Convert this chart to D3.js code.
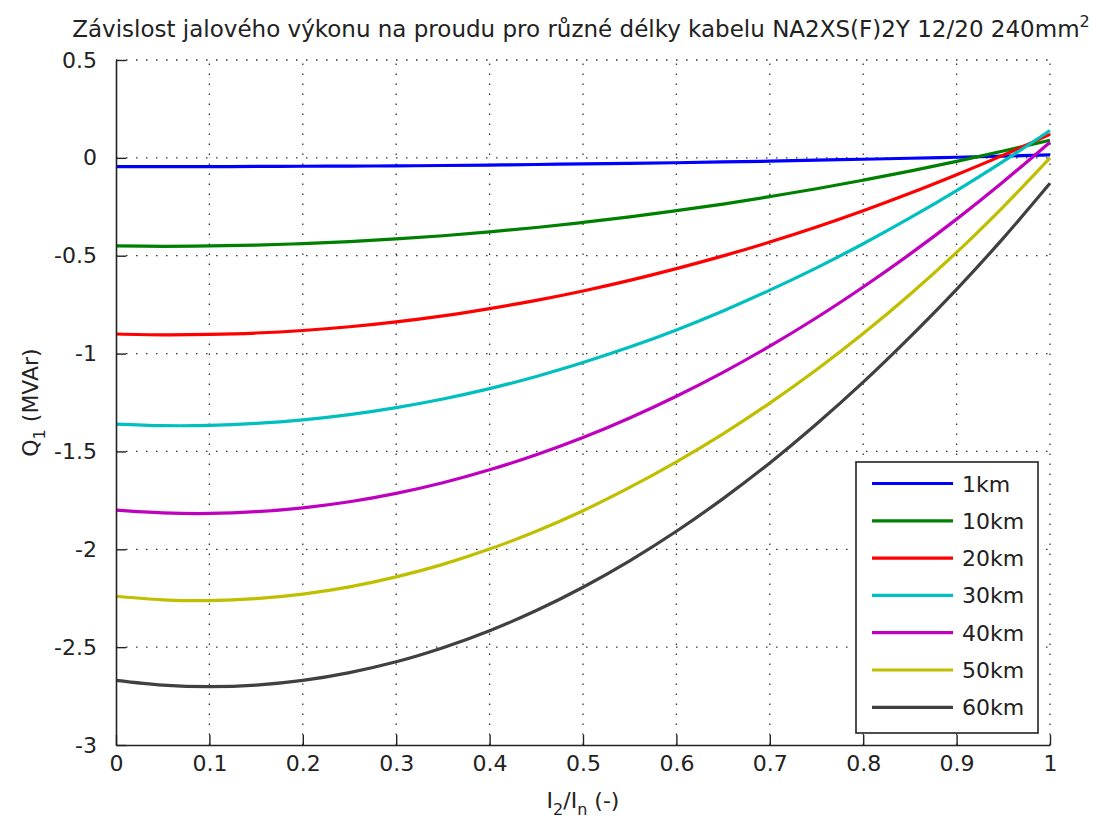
<!DOCTYPE html>
<html>
<head>
<meta charset="utf-8">
<script src="https://cdn.jsdelivr.net/npm/d3@7"></script>
<style>
  html, body { margin: 0; padding: 0; background: #ffffff; }
  svg { display: block; }
  text { font-family: "DejaVu Sans", "Liberation Sans", sans-serif; fill: #222; }
</style>
</head>
<body>
<svg id="chart" width="1096" height="823"></svg>
<script>
// ---- data ----
const xValues = [0, 0.05, 0.1, 0.15, 0.2, 0.25, 0.3, 0.35, 0.4, 0.45, 0.5,
                 0.55, 0.6, 0.65, 0.7, 0.75, 0.8, 0.85, 0.9, 0.95, 1.0];

const seriesNames = ["1km", "10km", "20km", "30km", "40km", "50km", "60km"];
const seriesColors = ["#0000ff", "#008000", "#ff0000", "#00bfbf", "#bf00bf", "#bfbf00", "#404040"];

const q1km  = [-0.045, -0.045, -0.045, -0.044, -0.043, -0.042, -0.041, -0.039, -0.037, -0.034, -0.031,
               -0.028, -0.025, -0.021, -0.017, -0.012, -0.007, -0.002, 0.003, 0.009, 0.015];
const q10km = [-0.450, -0.452, -0.450, -0.446, -0.438, -0.428, -0.414, -0.398, -0.378, -0.356, -0.330,
               -0.302, -0.270, -0.236, -0.198, -0.158, -0.114, -0.068, -0.018, 0.035, 0.090];
const q20km = [-0.900, -0.904, -0.902, -0.895, -0.882, -0.863, -0.838, -0.807, -0.770, -0.728, -0.680,
               -0.626, -0.566, -0.501, -0.430, -0.353, -0.270, -0.181, -0.086, 0.014, 0.120];
const q30km = [-1.360, -1.368, -1.367, -1.357, -1.339, -1.312, -1.276, -1.232, -1.179, -1.117, -1.046,
               -0.967, -0.879, -0.782, -0.676, -0.562, -0.439, -0.307, -0.167, -0.018, 0.140];
const q40km = [-1.800, -1.814, -1.817, -1.808, -1.788, -1.757, -1.714, -1.660, -1.594, -1.517, -1.429,
               -1.329, -1.218, -1.096, -0.962, -0.817, -0.660, -0.492, -0.313, -0.122, 0.080];
const q50km = [-2.240, -2.258, -2.262, -2.252, -2.229, -2.192, -2.141, -2.077, -1.999, -1.908, -1.803,
               -1.684, -1.553, -1.410, -1.253, -1.083, -0.898, -0.698, -0.483, -0.250, 0.000];
const q60km = [-2.670, -2.694, -2.702, -2.694, -2.670, -2.630, -2.575, -2.503, -2.416, -2.313, -2.194,
               -2.059, -1.908, -1.741, -1.559, -1.360, -1.146, -0.916, -0.672, -0.410, -0.130];

const seriesValues = [q1km, q10km, q20km, q30km, q40km, q50km, q60km];

const xTicks = [0, 0.1, 0.2, 0.3, 0.4, 0.5, 0.6, 0.7, 0.8, 0.9, 1];
const xTickLabels = ["0", "0.1", "0.2", "0.3", "0.4", "0.5", "0.6", "0.7", "0.8", "0.9", "1"];
const yTicks = [0.5, 0, -0.5, -1, -1.5, -2, -2.5, -3];
const yTickLabels = ["0.5", "0", "-0.5", "-1", "-1.5", "-2", "-2.5", "-3"];

// ---- layout ----
const plot = { left: 116, right: 1050, top: 60, bottom: 745 };
const svg = d3.select("#chart");

const x = d3.scaleLinear().domain([0, 1]).range([plot.left, plot.right]);
const y = d3.scaleLinear().domain([-3, 0.5]).range([plot.bottom, plot.top]);

// grid (dotted)
const grid = svg.append("g").attr("class", "grid")
  .attr("stroke", "#333").attr("stroke-width", 1.3).attr("stroke-dasharray", "1.5,8.5");
grid.selectAll("line.gx").data(xTicks.filter(d => d > 0)).join("line")
  .attr("x1", d => x(d)).attr("x2", d => x(d))
  .attr("y1", plot.bottom).attr("y2", plot.top);
grid.selectAll("line.gy").data(yTicks.filter(d => d > -3)).join("line")
  .attr("class", "gy")
  .attr("y1", d => y(d)).attr("y2", d => y(d))
  .attr("x1", plot.left).attr("x2", plot.right);

// series lines
const line = d3.line()
  .x((d, i) => x(xValues[i]))
  .y(d => y(d))
  .curve(d3.curveCatmullRom);

svg.append("g").selectAll("path").data(seriesValues).join("path")
  .attr("d", d => line(d))
  .attr("fill", "none")
  .attr("stroke", (d, i) => seriesColors[i])
  .attr("stroke-width", 3.2);

// axes (left + bottom) with inward ticks
const xAxis = d3.axisBottom(x).tickValues(xTicks)
  .tickFormat((d, i) => xTickLabels[i]).tickSizeInner(-10).tickSizeOuter(0).tickPadding(22);
const yAxis = d3.axisLeft(y).tickValues(yTicks)
  .tickFormat((d, i) => yTickLabels[i]).tickSizeInner(-10).tickSizeOuter(0).tickPadding(19);

const gx = svg.append("g").attr("transform", `translate(0,${plot.bottom})`).call(xAxis);
const gy = svg.append("g").attr("transform", `translate(${plot.left},0)`).call(yAxis);

[gx, gy].forEach(g => {
  g.select(".domain").attr("stroke", "#222").attr("stroke-width", 1.6);
  g.selectAll(".tick line").attr("stroke", "#222").attr("stroke-width", 1.4);
  g.selectAll(".tick text").attr("font-size", 22).attr("fill", "#222")
    .attr("font-family", "DejaVu Sans, sans-serif");
});
gx.selectAll(".tick text").attr("dy", "0.2em");

// title
const title = svg.append("text")
  .attr("x", 581).attr("y", 37)
  .attr("text-anchor", "middle")
  .attr("font-size", 23);
title.append("tspan").text("Závislost jalového výkonu na proudu pro různé délky kabelu NA2XS(F)2Y 12/20 240mm");
title.append("tspan").attr("dy", -10).attr("font-size", 16).text("2");

// y label
const ylab = svg.append("text")
  .attr("transform", `translate(38,${(plot.top + plot.bottom) / 2}) rotate(-90)`)
  .attr("text-anchor", "middle")
  .attr("font-size", 22);
ylab.append("tspan").text("Q");
ylab.append("tspan").attr("dy", 7).attr("font-size", 16).text("1");
ylab.append("tspan").attr("dy", -7).text(" (MVAr)");

// x label
const xlab = svg.append("text")
  .attr("x", (plot.left + plot.right) / 2).attr("y", 808)
  .attr("text-anchor", "middle")
  .attr("font-size", 22);
xlab.append("tspan").text("I");
xlab.append("tspan").attr("dy", 7).attr("font-size", 16).text("2");
xlab.append("tspan").attr("dy", -7).text("/I");
xlab.append("tspan").attr("dy", 7).attr("font-size", 16).text("n");
xlab.append("tspan").attr("dy", -7).text(" (-)");

// legend
const legend = { x0: 856, x1: 1038, y0: 462, y1: 733, rowStart: 483.5, rowStep: 37.3 };
const lg = svg.append("g");
lg.append("rect")
  .attr("x", legend.x0).attr("y", legend.y0)
  .attr("width", legend.x1 - legend.x0).attr("height", legend.y1 - legend.y0)
  .attr("fill", "#fff").attr("stroke", "#222").attr("stroke-width", 1.6);
const rows = lg.selectAll("g.row").data(seriesNames).join("g")
  .attr("transform", (d, i) => `translate(0,${legend.rowStart + i * legend.rowStep})`);
rows.append("line")
  .attr("x1", 872).attr("x2", 953).attr("y1", 0).attr("y2", 0)
  .attr("stroke", (d, i) => seriesColors[i]).attr("stroke-width", 3.2);
rows.append("text")
  .attr("x", 962).attr("y", 8)
  .attr("font-size", 22)
  .text(d => d);
</script>
</body>
</html>
